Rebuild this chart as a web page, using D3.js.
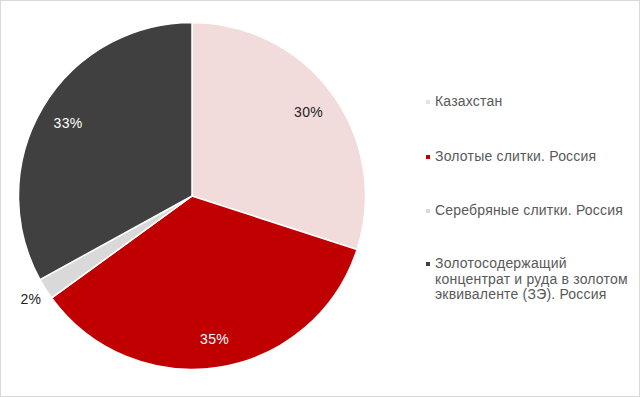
<!DOCTYPE html>
<html>
<head>
<meta charset="utf-8">
<script src="https://cdn.jsdelivr.net/npm/d3@7"></script>
<style>
  body { margin: 0; background: #fff; }
  text { font-family: "Liberation Sans", Arial, sans-serif; }
</style>
</head>
<body>
<div id="chart"></div>
<script>
// data
var categories = ['Казахстан', 'Золотые слитки. Россия', 'Серебряные слитки. Россия',
  'Золотосодержащий концентрат и руда в золотом эквиваленте (ЗЭ). Россия'];
var legendLines = [['Казахстан'], ['Золотые слитки. Россия'], ['Серебряные слитки. Россия'],
  ['Золотосодержащий', 'концентрат и руда в золотом', 'эквиваленте (ЗЭ). Россия']];
var values = [30, 35, 2, 33];
var colors = ['#F2DCDB', '#C00000', '#D9D9D9', '#404040'];
var labelColors = ['#222', '#fff', '#222', '#fff'];

var width = 640, height = 397;
var cx = 192, cy = 196, r = 173.5;

var svg = d3.select('#chart').append('svg')
  .attr('width', width)
  .attr('height', height);

// outer frame
svg.append('rect')
  .attr('x', 0.5).attr('y', 0.5)
  .attr('width', width - 1).attr('height', height - 1)
  .attr('fill', '#fff')
  .attr('stroke', '#D9D9D9');

var pie = d3.pie().sort(null).value(function (d) { return d; });
var arcs = pie(values);

var arc = d3.arc().innerRadius(0).outerRadius(r);
var labelArc = d3.arc().innerRadius(r * 0.83).outerRadius(r * 0.83);
var outerLabelArc = d3.arc().innerRadius(r * 1.1).outerRadius(r * 1.1);

var g = svg.append('g').attr('transform', 'translate(' + cx + ',' + cy + ')');

g.selectAll('path')
  .data(arcs)
  .enter()
    .append('path')
    .attr('d', arc)
    .attr('fill', function (d, i) { return colors[i]; })
    .attr('stroke', '#fff')
    .attr('stroke-width', 1.5)
    .attr('stroke-linejoin', 'round');

g.selectAll('text.lbl')
  .data(arcs)
  .enter()
    .append('text')
    .attr('class', 'lbl')
    .attr('transform', function (d) {
      var c = d.data < 5 ? outerLabelArc.centroid(d) : labelArc.centroid(d);
      return 'translate(' + c + ')';
    })
    .attr('text-anchor', 'middle')
    .attr('dy', '0.38em')
    .attr('font-size', 14)
    .attr('letter-spacing', 0.3)
    .attr('fill', function (d, i) { return labelColors[i]; })
    .text(function (d) { return d.data + '%'; });

// legend
var legend = svg.append('g').attr('transform', 'translate(426,0)');
var rowY = [106, 161, 215, 268];

var item = legend.selectAll('g.item')
  .data(categories)
  .enter()
    .append('g')
    .attr('class', 'item')
    .attr('transform', function (d, i) { return 'translate(0,' + rowY[i] + ')'; });

item.append('rect')
  .attr('x', 0).attr('y', -6)
  .attr('width', 4).attr('height', 4)
  .attr('fill', function (d, i) { return colors[i]; });

item.append('text')
  .attr('x', 9)
  .attr('font-size', 14)
  .attr('letter-spacing', 0.2)
  .attr('fill', '#595959')
  .selectAll('tspan')
  .data(function (d, i) { return legendLines[i]; })
  .enter()
    .append('tspan')
    .attr('x', 9)
    .attr('y', function (d, j) { return j * 15.5; })
    .text(function (d) { return d; });
</script>
</body>
</html>
